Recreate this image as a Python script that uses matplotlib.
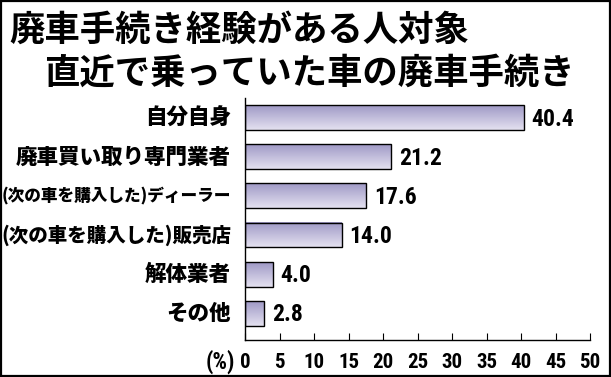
import matplotlib
matplotlib.use('Agg')
import matplotlib.pyplot as plt
import numpy as np
from matplotlib import font_manager
from matplotlib.colors import LinearSegmentedColormap
from matplotlib.patches import Rectangle

# data
categories = ['自分自身', '廃車買い取り専門業者', '(次の車を購入した)ディーラー',
              '(次の車を購入した)販売店', '解体業者', 'その他']
values = [40.4, 21.2, 17.6, 14.0, 4.0, 2.8]
xticks = [0, 5, 10, 15, 20, 25, 30, 35, 40, 45, 50]
title_lines = ['廃車手続き経験がある人対象', '直近で乗っていた車の廃車手続き']

jp = 'Noto Sans CJK JP'
names = {f.name for f in font_manager.fontManager.ttflist}
num_font = 'DejaVu Sans'
for cand in ['Roboto Condensed', 'Archivo Narrow', 'PT Sans Narrow', 'Liberation Sans Narrow']:
    if cand in names:
        num_font = cand
        break
nscale = 1.0 if num_font != 'DejaVu Sans' else 0.8

W, H = 611, 377
fig = plt.figure(figsize=(W / 100, H / 100), dpi=100)

# frame around the whole picture
fig.patches.append(Rectangle((0.0015, 0.002), 0.997, 0.996, transform=fig.transFigure,
                             fill=False, edgecolor='black', linewidth=1.6))

# title
fig.text(9 / W, 1 - 30 / H, title_lines[0], fontsize=25.5, fontweight='bold',
         family=jp, va='center', ha='left')
fig.text(44 / W, 1 - 73 / H, title_lines[1], fontsize=25.5, fontweight='bold',
         family=jp, va='center', ha='left')

ax = fig.add_axes([245 / W, 1 - 340 / H, (590 - 245) / W, (340 - 98) / H])

grad = LinearSegmentedColormap.from_list('bar', ['#9f99c6', '#e4e1f0'])
gimg = np.linspace(0, 1, 64).reshape(-1, 1)
bh = 0.64
for i, v in enumerate(values):
    ax.imshow(gimg, cmap=grad, aspect='auto', interpolation='bilinear',
              extent=(0, v, i + bh / 2, i - bh / 2), zorder=2)
    ax.add_patch(Rectangle((0, i - bh / 2), v, bh, fill=False,
                           edgecolor='black', linewidth=1.0, zorder=3))
    ax.text(v + 1.1, i + 0.03, '{:.1f}'.format(v), va='center', ha='left',
            fontsize=17 * nscale, fontweight='bold', family=num_font, zorder=4)
ax.set_xlim(0, 50)
ax.set_ylim(5.69, -0.51)

# category labels, shrunk to fit the room on the left
fig.canvas.draw()
r = fig.canvas.get_renderer()
for i, c in enumerate(categories):
    t = ax.text(-2.0, i, c, ha='right', va='center', fontsize=15.5,
                fontweight=900, family=jp)
    w = t.get_window_extent(r).width
    if w > 230:
        t.set_fontsize(15.5 * 230 / w)

for s in ['top', 'right']:
    ax.spines[s].set_visible(False)
ax.spines['left'].set_linewidth(1.0)
ax.spines['bottom'].set_linewidth(1.0)
ax.set_yticks([])
ax.set_xticks(xticks)
ax.tick_params(axis='x', direction='in', length=5, width=0.8, pad=9)
for lab in ax.get_xticklabels():
    lab.set_fontsize(15 * nscale)
    lab.set_fontweight('bold')
    lab.set_family(num_font)
ax.text(-1.4, -0.04, '(%)', transform=ax.get_xaxis_transform(), ha='right',
        va='top', fontsize=16.5 * nscale, fontweight='bold', family=num_font)

plt.savefig('out.png', dpi=100)
